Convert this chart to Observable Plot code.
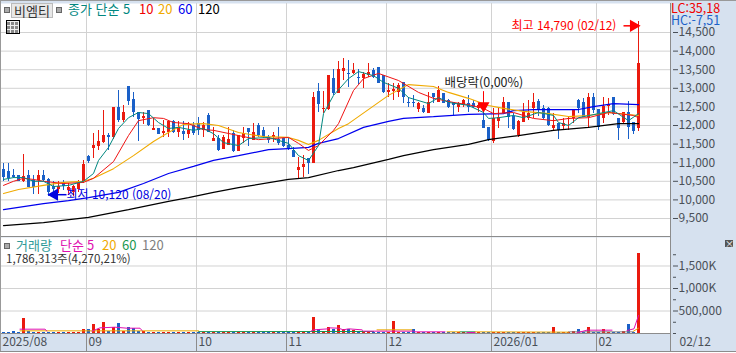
<!DOCTYPE html>
<html lang="ko"><head><meta charset="utf-8">
<script src="https://cdn.jsdelivr.net/npm/d3@7"></script>
<script src="https://cdn.jsdelivr.net/npm/@observablehq/plot@0.6"></script>
<style>
html,body{margin:0;padding:0;background:#fff}
#c{position:relative;width:736px;height:353px;overflow:hidden;font-family:"Noto Sans CJK KR","Noto Sans",sans-serif;font-size:12px;line-height:14px}
#c svg{position:absolute;left:0;display:block;background:#d6e1ef;font-family:"Noto Sans CJK KR","Noto Sans",sans-serif}
.t{position:absolute;white-space:pre}
</style></head><body><div id="c"></div>
<script>
const opens=[10820,10760,10660,10660,10500,10660,10520,10520,10660,10550,10360,10280,10470,10250,10200,10280,10500,11170,11380,11440,11540,11730,11680,12480,12130,13050,12700,12350,12190,12400,11870,11920,11780,11810,12110,11810,11840,11760,12000,12050,11870,12270,11570,11650,11350,11460,11780,11300,11650,11920,11600,12000,11870,11680,11680,11620,11650,11460,11330,10790,10870,11110,10980,12910,12430,12430,13260,12860,13450,13400,13400,13290,13260,13340,13480,13560,13340,12890,12910,12890,13160,12620,12620,12430,12460,12320,12860,12620,12860,12670,12620,12480,12540,12590,12590,12460,12130,11950,11570,12110,12320,12620,12240,11730,12080,12190,12460,12650,12460,12460,11920,12050,11970,12160,12190,12670,12620,12210,12750,12430,12190,12510,12750,12190,12080,12350,12080,11920];
const highs=[10980,10980,10820,10660,11220,10790,10660,10790,10790,10580,10500,10500,10520,10440,10390,10520,11060,11190,11780,11870,12400,11780,12480,12940,12540,13050,12890,12350,12350,12400,12190,11920,12130,12130,12130,12110,12110,12080,12080,12210,12080,12320,11950,11730,11730,11950,11870,11730,11950,11920,12050,12050,11950,11730,11810,11950,11680,11680,11410,11140,11190,11110,12890,13130,12910,13340,13500,13720,13800,13750,13670,13500,13420,13670,13530,13560,13340,13130,13130,13130,13160,12750,12810,12620,12540,12890,12860,13050,12860,12700,12620,12620,12700,12810,12670,12590,12480,11950,12460,12460,12750,12620,12320,12130,12590,12670,12860,12700,12540,12480,12320,12050,12190,12210,12400,12700,12730,12860,12860,12430,12750,12730,12750,12190,12350,12650,12080,14790];
const lows=[10500,10500,10580,10500,10470,10330,10150,10150,10500,10090,10120,10170,10250,10120,10090,10200,10440,10980,11110,11330,11520,11330,11620,12080,12080,12540,12210,11570,12030,11970,11870,11760,11680,11680,11780,11680,11600,11650,11730,11730,11680,11810,11570,11300,11350,11460,11270,11300,11520,11440,11600,11680,11650,11520,11540,11460,11410,11330,11140,10580,10600,10680,10980,12350,12320,12400,12810,12860,13210,13020,13370,13100,13000,13290,13260,13130,12860,12750,12670,12750,12590,12480,12480,12350,12320,12320,12590,12620,12590,12460,12270,12350,12480,12350,12460,12350,11920,11570,11520,11920,12320,11920,11870,11680,12080,12130,12190,12240,12160,11970,11870,11620,11870,11870,12050,12320,12210,11950,12320,11870,12050,12270,12270,11600,12050,11620,11760,11840];
const closes=[10600,10580,10600,10500,10630,10330,10330,10660,10520,10200,10280,10360,10360,10330,10360,10440,10950,11030,11460,11570,11730,11680,12480,12130,12350,12650,12350,12160,12240,12000,11920,11760,11840,12110,11810,11950,11760,11870,11780,11870,12000,11810,11650,11330,11680,11620,11300,11730,11780,11810,11810,11730,11680,11600,11730,11520,11440,11380,11140,10870,10950,10980,12750,12560,12460,13340,12860,13500,13530,13370,13480,13260,13370,13420,13290,13130,12890,12940,12970,13070,12750,12590,12590,12590,12350,12620,12750,12940,12590,12480,12540,12590,12670,12480,12480,12540,11920,11600,12190,12210,12620,12210,11890,12110,12350,12320,12620,12400,12190,12000,12000,11870,12050,12190,12400,12460,12210,12750,12400,11950,12510,12560,12300,11920,12350,11950,11840,13670];
const volumes=[30000,30000,50000,30000,325000,35000,30000,30000,30000,30000,30000,30000,30000,30000,30000,30000,100000,80000,190000,100000,250000,35000,140000,230000,40000,125000,110000,40000,35000,30000,30000,30000,30000,30000,30000,30000,30000,30000,30000,30000,30000,30000,30000,30000,30000,30000,30000,30000,30000,30000,30000,30000,30000,30000,30000,30000,30000,30000,30000,30000,30000,30000,362000,100000,40000,125000,80000,178000,80000,80000,65000,35000,30000,30000,30000,30000,30000,30000,266000,30000,30000,30000,80000,30000,30000,30000,30000,30000,30000,30000,30000,30000,30000,30000,30000,30000,30000,30000,30000,30000,30000,30000,30000,30000,30000,30000,30000,30000,30000,30000,125000,30000,30000,30000,45000,80000,30000,125000,30000,30000,100000,30000,30000,30000,45000,190000,30000,1786313];

const ma5X=[0,2,4,6,8,10,13,16,18,19,21,23,25,27,29,31,33,35,38,40,42,44,47,49,53,57,59,61,63,64,66,69,71,74,76,79,81,85,87,89,93,96,97,99,102,104,107,110,111,113,115,119,122,125,127];
const ma5Y=[10550,10600,10600,10500,10500,10360,10390,10500,10710,11060,11410,11920,12210,12350,12320,12080,11920,11950,11870,11920,11780,11540,11460,11650,11680,11520,11190,11060,11460,12320,12810,13260,13450,13340,13160,13000,12750,12590,12750,12620,12540,12350,12190,12210,12270,12210,12350,12270,12080,12000,12210,12320,12400,12130,12320];
const ma10X=[0,2,4,6,8,12,16,18,22,25,27,30,32,34,37,40,42,47,51,57,59,61,63,66,67,70,72,75,79,83,86,90,93,96,98,102,106,110,113,117,121,126,127];
const ma10Y=[10390,10500,10580,10550,10500,10440,10470,10580,11030,11730,12130,12210,12190,12080,12050,11890,11870,11730,11620,11680,11520,11330,11460,11870,12050,12940,13260,13400,13210,12890,12730,12620,12560,12460,12320,12350,12190,12130,12190,12210,12350,12270,12210];
const ma20X=[0,3,8,12,16,18,22,26,30,33,36,40,43,47,52,57,59,61,63,67,69,77,81,86,89,93,97,100,104,109,113,117,121,127];
const ma20Y=[10170,10280,10390,10470,10500,10580,10840,11190,11570,11810,12030,12050,12000,11810,11700,11680,11600,11490,11600,11920,12050,12810,13100,13050,12890,12730,12540,12460,12380,12320,12240,12270,12350,12270];
const ma60X=[0,8,13,17,23,28,33,38,42,47,53,57,61,63,67,72,77,80,86,93,100,102,106,112,115,118,122,127];
const ma60Y=[9740,9900,9980,10060,10200,10440,10710,10900,11060,11190,11350,11380,11410,11520,11650,11950,12110,12190,12240,12300,12320,12400,12430,12430,12430,12510,12590,12560];
const ma120X=[0,8,17,25,33,37,42,47,57,61,67,70,77,80,86,93,97,103,110,117,123,127];
const ma120Y=[9310,9390,9530,9740,9960,10060,10200,10330,10550,10600,10790,10870,11090,11190,11350,11490,11620,11730,11870,11950,12050,12050];

// visible stretches of the volume averages; null marks where a line is hidden behind the others
const volMa5X=[3.3,8.3,8.7,9,17.7,19.3,22.3,24.7,27.3,27.7,28,61.5,62,65,65.1,67,68,69,71.7,72,75.3,82,82.3,88.3,89,92.7,94.3,95,114.7,116.7,121.7,122,124.7,126.1,127];
const volMa5Y=[96000,96000,52000,null,52000,126000,140000,118000,118000,67000,null,52000,81000,104000,126000,118000,81000,104000,81000,52000,52000,52000,37000,37000,null,22000,22000,null,15000,74000,74000,null,66000,104000,400000];
const volMa20X=[3.3,39,39.5,74.7,81.7,82,88.7,91.3,92,94.3,113,113.5,126,127];
const volMa20Y=[59000,59000,null,81000,81000,null,37000,37000,null,37000,30000,null,52000,118000];
const volMa60X=[39,74,75,91.3,94.3];
const volMa60Y=[42000,45000,null,37000,37000];
const volMa120X=[62,74,75,113,126];
const volMa120Y=[45000,45000,null,37000,37000];

const priceTicks=[9500,10000,10500,11000,11500,12000,12500,13000,13500,14000,14500];
const volTicks=[500000,1000000,1500000];
const volTickLabels=["500,000","1,000K","1,500K"];
const volMinorTicks=[0,250000,750000,1250000,1750000];
const volGrid=[500000,1000000,1500000];
const monthStarts=[17,39,57,77,98,119];
const monthNames=["09","10","11","12","2026/01","02"];

const RED="#ea1a0e",BLUE="#1a60c8";
const idx=d3.range(opens.length);
const pts=(X,Y)=>X.map((x,k)=>({x,y:Y[k]}));
const monthLines=monthStarts.map(m=>m-0.4);
const xScale={type:"linear",domain:[-0.6,133.4],range:[0,670]};
const line=(X,Y,stroke,sw)=>Plot.line(pts(X,Y),{x:"x",y:"y",stroke,strokeWidth:sw,strokeLinejoin:"miter"});
const GRID="#d2d2d2",TICK="#4a5058";

const upper=Plot.plot({width:736,height:237,marginTop:3,marginBottom:1,marginLeft:0,marginRight:66,
  style:{background:"#d6e1ef",overflow:"visible"},
  x:{...xScale,axis:null},
  y:{type:"linear",domain:[9016,15280],range:[236,3],axis:null},
  marks:[
    Plot.frame({fill:"white",stroke:null}),
    Plot.ruleY(priceTicks,{stroke:GRID}),
    Plot.ruleX(monthLines,{stroke:GRID}),
    Plot.frame({anchor:"right",stroke:"#8c8c8c"}),
    Plot.frame({anchor:"bottom",stroke:"#8c8c8c"}),
    Plot.axisY(priceTicks,{anchor:"right",tickSize:5,tickPadding:1,dx:2,fontSize:12,color:TICK,tickFormat:d3.format(","),label:null}),
    Plot.ruleX(idx,{x:i=>i,y1:i=>lows[i],y2:i=>highs[i],stroke:i=>closes[i]>=opens[i]?RED:BLUE,shapeRendering:"crispEdges"}),
    Plot.rect(idx,{x1:i=>i-0.3,x2:i=>i+0.3,y1:i=>opens[i],y2:i=>closes[i],fill:i=>closes[i]>=opens[i]?RED:BLUE,shapeRendering:"crispEdges"}),
    line(ma120X,ma120Y,"#000",1.25),
    line(ma60X,ma60Y,"#0000ee",1.25),
    line(ma20X,ma20Y,"#f0aa00",1.1),
    line(ma10X,ma10Y,"#f01414",1),
    line(ma5X,ma5Y,"#00877f",1),
    Plot.ruleX([96],{y1:12480,y2:12910,stroke:"#f00"}),
    Plot.dot([{x:96,y:12530}],{x:"x",y:"y",symbol:"triangle",rotate:180,r:3.5,fill:"#f00",stroke:"#f00"}),
    Plot.text([{x:88.2,y:13140,t:"배당락(0,00%)"}],{x:"x",y:"y",text:"t",textAnchor:"start",fontSize:12.5,fill:"#222"}),
    Plot.link([{x1:124,x2:125.5,y:14680}],{x1:"x1",x2:"x2",y1:"y",y2:"y",stroke:"#f00",strokeWidth:1.5}),
    Plot.dot([{x:126,y:14680}],{x:"x",y:"y",symbol:"triangle",rotate:90,r:3.6,fill:"#f00",stroke:"#f00"}),
    Plot.text([{x:101.6,y:14680,t:"최고 14,790 (02/12)"}],{x:"x",y:"y",text:"t",textAnchor:"start",fontSize:12,fill:"#f00"}),
    Plot.link([{x1:10.2,x2:12.6,y:10140}],{x1:"x1",x2:"x2",y1:"y",y2:"y",stroke:"#0000e0",strokeWidth:1.5}),
    Plot.dot([{x:10.2,y:10140}],{x:"x",y:"y",symbol:"triangle",rotate:-90,r:3.6,fill:"#0000e0",stroke:"#0000e0"}),
    Plot.text([{x:12.6,y:10140,t:"최저 10,120 (08/20)"}],{x:"x",y:"y",text:"t",textAnchor:"start",fontSize:12,fill:"#0000e0"})
  ]});

const lower=Plot.plot({width:736,height:116,marginTop:0,marginBottom:20,marginLeft:0,marginRight:66,
  style:{background:"#d6e1ef",overflow:"visible"},
  x:{...xScale,axis:null},
  y:{type:"linear",domain:[0,2133333],range:[96,0],axis:null},
  marks:[
    Plot.frame({fill:"white",stroke:null}),
    Plot.ruleY(volGrid,{stroke:GRID}),
    Plot.ruleX(monthLines,{y1:0,y2:2133333,stroke:GRID}),
    Plot.ruleX(monthLines,{y1:0,y2:-400000,stroke:"#8c8c8c"}),
    Plot.ruleX([133.4],{y1:0,y2:-400000,stroke:"#8c8c8c"}),
    Plot.ruleX([133.4],{y1:0,y2:2133333,stroke:"#8c8c8c"}),
    Plot.frame({anchor:"bottom",stroke:"#8c8c8c"}),
    Plot.axisY(volTicks,{anchor:"right",tickSize:5,tickPadding:1,dx:2,fontSize:12,color:TICK,tickFormat:d=>volTickLabels[volTicks.indexOf(d)],label:null}),
    Plot.axisY(volMinorTicks,{anchor:"right",tickSize:3,dx:2,color:TICK,tickFormat:()=>"",label:null}),
    Plot.rect(idx,{x1:i=>i-0.3,x2:i=>i+0.3,y1:0,y2:i=>volumes[i],fill:i=>closes[i]>=opens[i]?RED:BLUE,shapeRendering:"crispEdges"}),
    line(volMa120X,volMa120Y,"#808080",1),
    line(volMa60X,volMa60Y,"#1a9850",1),
    line(volMa20X,volMa20Y,"#e8a800",1),
    line(volMa5X,volMa5Y,"#e010b0",1),
    Plot.text(monthStarts,{x:m=>m-0.4,y:()=>-190000,text:(m,i)=>monthNames[i],textAnchor:"start",dx:2,fontSize:12,fill:TICK}),
    Plot.text(["2025/08"],{x:()=>-0.6,y:()=>-190000,text:d=>d,textAnchor:"start",dx:2,fontSize:12,fill:TICK}),
    Plot.text(["02/12"],{x:()=>133.4,y:()=>-190000,text:d=>d,textAnchor:"start",dx:9,fontSize:12,fill:TICK})
  ]});

const c=document.getElementById("c");
upper.style.top="0px"; lower.style.top="237px";
c.append(upper,lower);
function T(x,y,s,color,extra){const e=document.createElement("div");e.className="t";e.textContent=s;
  e.style.cssText=`left:${x}px;top:${y}px;color:${color};`+(extra||"");c.append(e);return e}
function B(css){const e=document.createElement("div");e.style.cssText="position:absolute;"+css;c.append(e);return e}
B("left:0;top:0;width:1px;height:351px;background:#999");
B("left:0;top:0;width:736px;height:1px;background:#999");
B("left:0;top:351px;width:736px;height:2px;background:#fff;border-top:1px solid #8c8c8c");
B("left:4px;top:7px;width:4px;height:4px;background:#aaa;border:1px solid #666");
T(11,3,"비엠티","#333","width:40px;height:13px;line-height:13px;text-align:center;background:#e8e8e8;border:1px solid #bbb;font-size:13px;");
B("left:56px;top:7px;width:4px;height:4px;background:#aaa;border:1px solid #666");
T(68,2,"종가 단순 5","#00877f","font-size:13px;");
T(139,2,"10","#f00000","font-size:13px;");
T(158,2,"20","#f0aa00","font-size:13px;");
T(178,2,"60","#0000ee","font-size:13px;");
T(198,2,"120","#000","font-size:13px;");
B("left:6px;top:20px;width:12px;height:12px;border:1px solid #000;background:repeating-linear-gradient(90deg,transparent 0 3px,#eee 3px 4px),repeating-linear-gradient(0deg,#888 0 3px,#eee 3px 4px)");
T(671,2,"LC:35,18","#f00000","font-size:12.5px;line-height:12px;");
T(671,14,"HC:-7,51",BLUE,"font-size:12.5px;line-height:12px;");
B("left:4px;top:243px;width:4px;height:4px;background:#aaa;border:1px solid #666");
T(16,238,"거래량","#2f9a98","font-size:13px;");
T(60,238,"단순","#e010b0","font-size:13px;");
T(87,238,"5","#e010b0","font-size:13px;");
T(102,238,"20","#f0aa00","font-size:13px;");
T(122,238,"60","#1a9850","font-size:13px;");
T(142,238,"120","#808080","font-size:13px;");
T(6,252,"1,786,313주(4,270,21%)","#333","font-size:11.5px;line-height:12px;");
T(725,240,"×","#fff","width:8px;height:7px;line-height:7px;text-align:center;background:#555;font-size:9px;");
</script></body></html>
